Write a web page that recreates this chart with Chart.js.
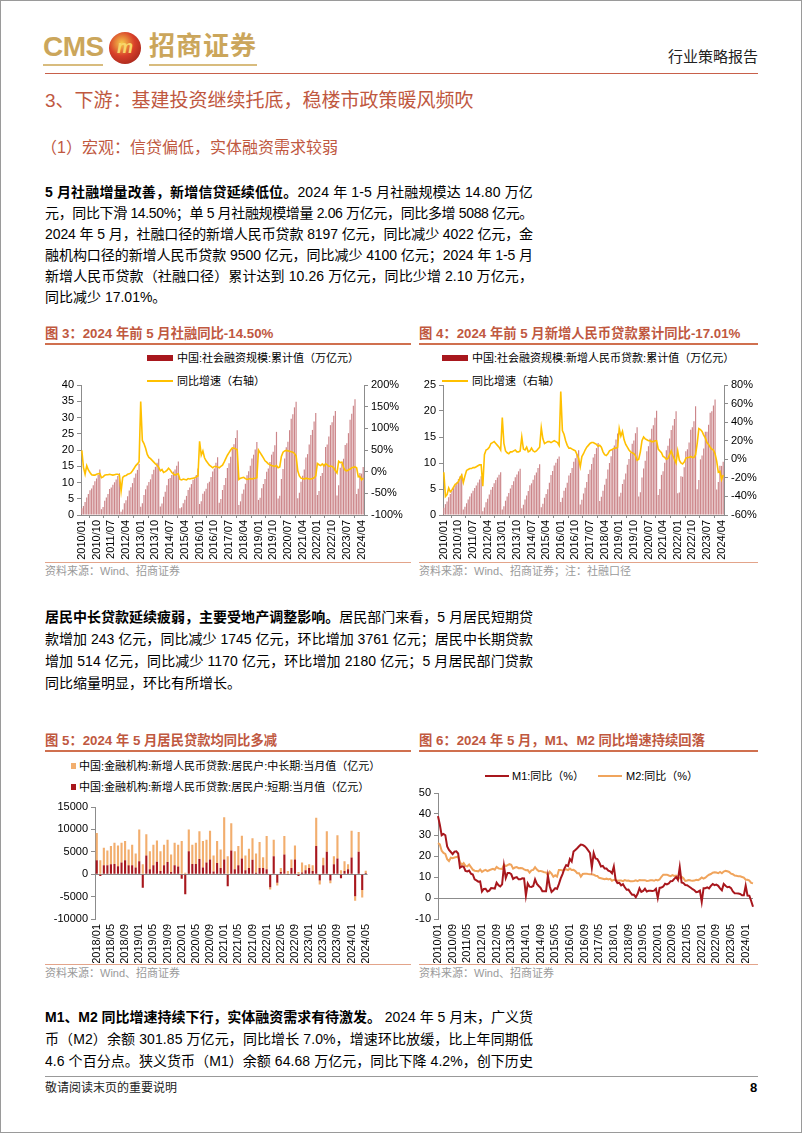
<!DOCTYPE html>
<html><head><meta charset="utf-8">
<script src="https://cdn.jsdelivr.net/npm/chart.js@4.4.1/dist/chart.umd.min.js"></script>
<style>
body{margin:0;background:#fff;}
#page{position:relative;width:802px;height:1133px;overflow:hidden;font-family:"Liberation Sans","Noto Sans CJK SC",sans-serif;color:#000;box-sizing:border-box;border:1px solid #9a9a9a;}
.abs{position:absolute;white-space:nowrap;}
.ln{position:absolute;left:44px;width:488px;height:22px;line-height:22px;font-size:14px;white-space:nowrap;}
.ln span{display:inline-block;white-space:nowrap;}
.hd{color:#C0583F;}
.ft{position:absolute;font-size:13.3px;font-weight:bold;color:#C0583F;white-space:nowrap;line-height:16px;}
.tl{position:absolute;height:2px;background:#D0704F;}
.bl{position:absolute;height:1px;background:#E3A48A;}
.src{position:absolute;font-size:11px;color:#9a9a9a;white-space:nowrap;line-height:14px;}
.lg{position:absolute;font-size:11px;white-space:nowrap;line-height:14px;color:#000;}
canvas{position:absolute;}
</style></head>
<body><div id="page">
<!-- header -->
<div class="abs" style="left:42px;top:29px;font-size:28px;font-weight:bold;color:#CBA65B;line-height:34px;letter-spacing:-0.5px;">CMS</div>
<div class="abs" style="left:108px;top:31px;width:32px;height:32px;border-radius:50%;background:radial-gradient(circle at 40% 35%,#F6CB4A 0%,#D8402A 45%,#8E1B16 100%);color:#F8D66A;font-weight:bold;font-style:italic;font-size:18px;line-height:30px;text-align:center;">m</div>
<div class="abs" style="left:148px;top:28px;font-size:26px;font-weight:bold;color:#CBA65B;line-height:34px;letter-spacing:1px;">招商证券</div>
<div class="abs" style="left:42px;top:63px;width:60px;height:2px;background:#D8BC7E;"></div>
<div class="abs" style="left:148px;top:63px;width:108px;height:2px;background:#D8BC7E;"></div>
<div class="abs" style="left:667px;top:47px;font-size:15px;color:#222;line-height:18px;">行业策略报告</div>
<div class="abs" style="left:44px;top:72px;width:713px;height:1px;background:#C8604A;"></div>

<div class="abs hd" style="left:44px;top:88px;font-size:19px;line-height:24px;">3、下游：基建投资继续托底，稳楼市政策暖风频吹</div>
<div class="abs hd" style="left:40px;top:137px;font-size:16px;line-height:20px;">（1）宏观：信贷偏低，实体融资需求较弱</div>

<div class="ln" style="top:180px;"><span><b>5 月社融增量改善，新增信贷延续低位。</b>2024 年 1-5 月社融规模达 14.80 万亿</span></div>
<div class="ln" style="top:201px;"><span>元，同比下滑 14.50%；单 5 月社融规模增量 2.06 万亿元，同比多增 5088 亿元。</span></div>
<div class="ln" style="top:222px;"><span>2024 年 5 月，社融口径的新增人民币贷款 8197 亿元，同比减少 4022 亿元，金</span></div>
<div class="ln" style="top:243px;"><span>融机构口径的新增人民币贷款 9500 亿元，同比减少 4100 亿元；2024 年 1-5 月</span></div>
<div class="ln" style="top:264px;"><span>新增人民币贷款（社融口径）累计达到 10.26 万亿元，同比少增 2.10 万亿元，</span></div>
<div class="ln last" style="top:285px;"><span>同比减少 17.01%。</span></div>

<!-- fig 3 / 4 titles -->
<div class="ft" style="left:44px;top:325px;">图 3：2024 年前 5 月社融同比-14.50%</div>
<div class="tl" style="left:44px;top:342px;width:366px;"></div>
<div class="ft" style="left:418px;top:325px;">图 4：2024 年前 5 月新增人民币贷款累计同比-17.01%</div>
<div class="tl" style="left:418px;top:342px;width:339px;"></div>

<div class="abs" style="left:146px;top:354px;width:26px;height:6px;background:#A8171D;"></div>
<div class="lg" style="left:176px;top:350px;">中国:社会融资规模:累计值（万亿元）</div>
<div class="abs" style="left:146px;top:379px;width:26px;height:2px;background:#FFC000;"></div>
<div class="lg" style="left:176px;top:373px;">同比增速（右轴）</div>

<div class="abs" style="left:441px;top:354px;width:26px;height:6px;background:#A8171D;"></div>
<div class="lg" style="left:471px;top:350px;">中国:社会融资规模:新增人民币贷款:累计值（万亿元）</div>
<div class="abs" style="left:441px;top:379px;width:26px;height:2px;background:#FFC000;"></div>
<div class="lg" style="left:471px;top:373px;">同比增速（右轴）</div>

<canvas id="c3" width="370" height="186" style="left:40px;top:374px;"></canvas>
<canvas id="c4" width="347" height="186" style="left:410px;top:374px;"></canvas>

<div class="bl" style="left:44px;top:561px;width:366px;"></div>
<div class="src" style="left:44px;top:563px;">资料来源：Wind、招商证券</div>
<div class="bl" style="left:418px;top:561px;width:339px;"></div>
<div class="src" style="left:418px;top:563px;">资料来源：Wind、招商证券；注：社融口径</div>

<div class="ln" style="top:605px;"><span><b>居民中长贷款延续疲弱，主要受地产调整影响。</b>居民部门来看，5 月居民短期贷</span></div>
<div class="ln" style="top:627px;"><span>款增加 243 亿元，同比减少 1745 亿元，环比增加 3761 亿元；居民中长期贷款</span></div>
<div class="ln" style="top:649px;"><span>增加 514 亿元，同比减少 1170 亿元，环比增加 2180 亿元；5 月居民部门贷款</span></div>
<div class="ln last" style="top:671px;"><span>同比缩量明显，环比有所增长。</span></div>

<!-- fig 5 / 6 titles -->
<div class="ft" style="left:44px;top:732px;">图 5：2024 年 5 月居民贷款均同比多减</div>
<div class="tl" style="left:44px;top:749px;width:366px;"></div>
<div class="ft" style="left:418px;top:732px;">图 6：2024 年 5 月，M1、M2 同比增速持续回落</div>
<div class="tl" style="left:418px;top:749px;width:339px;"></div>

<div class="abs" style="left:70px;top:762px;width:5px;height:6px;background:#F2AE6E;"></div>
<div class="lg" style="left:78px;top:758px;">中国:金融机构:新增人民币贷款:居民户:中长期:当月值（亿元）</div>
<div class="abs" style="left:70px;top:783px;width:5px;height:6px;background:#A8171D;"></div>
<div class="lg" style="left:78px;top:779px;">中国:金融机构:新增人民币贷款:居民户:短期:当月值（亿元）</div>

<div class="abs" style="left:484px;top:774px;width:24px;height:2px;background:#A8171D;"></div>
<div class="lg" style="left:511px;top:768px;">M1:同比（%）</div>
<div class="abs" style="left:597px;top:774px;width:24px;height:2px;background:#F0A45C;"></div>
<div class="lg" style="left:625px;top:768px;">M2:同比（%）</div>

<canvas id="c5" width="340" height="166" style="left:40px;top:796px;"></canvas>
<canvas id="c6" width="360" height="180" style="left:400px;top:782px;"></canvas>

<div class="bl" style="left:44px;top:963px;width:366px;"></div>
<div class="src" style="left:44px;top:965px;">资料来源：Wind、招商证券</div>
<div class="bl" style="left:418px;top:963px;width:339px;"></div>
<div class="src" style="left:418px;top:965px;">资料来源：Wind、招商证券</div>

<div class="ln" style="top:1005px;"><span><b>M1、M2 同比增速持续下行，实体融资需求有待激发。</b> 2024 年 5 月末，广义货</span></div>
<div class="ln" style="top:1027px;"><span>币（M2）余额 301.85 万亿元，同比增长 7.0%，增速环比放缓，比上年同期低</span></div>
<div class="ln" style="top:1049px;"><span>4.6 个百分点。狭义货币（M1）余额 64.68 万亿元，同比下降 4.2%，创下历史</span></div>

<div class="abs" style="left:44px;top:1075px;width:713px;height:1px;background:#999;"></div>
<div class="abs" style="left:44px;top:1080px;font-size:12px;line-height:14px;color:#222;">敬请阅读末页的重要说明</div>
<div class="abs" style="left:749px;top:1079px;font-size:13px;font-weight:bold;line-height:16px;">8</div>
</div>

<script>
// ---------- data ----------
// monthly categories 2010/01 - 2024/05
const months2010 = [];
for (let y = 2010; y <= 2024; y++) for (let m = 1; m <= 12; m++) { if (y === 2024 && m > 5) break; months2010.push(y + '/' + String(m).padStart(2, '0')); }
const months2018 = months2010.slice(96);

const ticks34 = ['2010/01','2010/10','2011/07','2012/04','2013/01','2013/10','2014/07','2015/04','2016/01','2016/10','2017/07','2018/04','2019/01','2019/10','2020/07','2021/04','2022/01','2022/10','2023/07','2024/04'];
const ticks5 = ['2018/01','2018/05','2018/09','2019/01','2019/05','2019/09','2020/01','2020/05','2020/09','2021/01','2021/05','2021/09','2022/01','2022/05','2022/09','2023/01','2023/05','2023/09','2024/01','2024/05'];
const ticks6 = ['2010/01','2010/09','2011/05','2012/01','2012/09','2013/05','2014/01','2014/09','2015/05','2016/01','2016/09','2017/05','2018/01','2018/09','2019/05','2020/01','2020/09','2021/05','2022/01','2022/09','2023/05','2024/01'];

// Fig 3: TSF cumulative (万亿元) and YoY (%)
const tsfCum = [
2.07,2.78,4.00,5.39,6.46,7.63,8.16,9.19,10.41,11.24,12.36,14.02,
1.78,2.44,4.35,5.37,6.43,7.98,8.44,9.27,10.07,10.95,11.97,12.83,
0.97,1.73,3.60,4.56,5.74,7.52,8.57,9.81,11.45,12.74,13.88,15.76,
2.54,3.61,6.16,7.91,9.10,10.16,10.97,12.54,13.95,14.81,16.04,17.32,
2.58,3.52,5.60,7.15,9.12,11.10,11.38,12.32,13.37,14.03,15.18,16.46,
2.05,2.41,3.61,4.66,5.88,7.71,8.43,9.51,10.82,11.30,12.32,14.30,
3.42,4.20,6.54,7.29,8.11,9.74,10.23,11.70,13.42,14.31,16.05,17.80,
3.74,4.95,7.70,9.20,11.40,14.50,15.90,17.90,20.40,21.80,23.70,26.10,
3.08,4.20,6.55,7.85,9.60,12.20,13.45,15.15,17.35,18.55,20.15,22.49,
4.64,5.34,8.20,9.56,11.05,13.31,14.32,16.30,18.57,19.45,21.45,25.58,
5.07,5.94,11.08,14.17,17.36,20.83,22.52,26.10,29.58,30.99,33.12,34.86,
5.17,6.88,10.22,12.07,13.99,17.66,18.73,21.69,24.59,26.18,28.78,31.35,
6.17,7.36,12.01,12.92,15.76,20.93,21.69,24.12,27.65,28.56,30.55,32.01,
5.98,9.14,14.53,15.75,17.31,21.53,22.06,25.18,29.30,31.15,33.60,35.59,
6.50,8.06,12.93,12.73,14.80];
const tsfYoy = [
49,10,-6,14,4,-2,-7,-8,-8,-6,-5,-4,
-14,-12,-8,-7,-7,-6,-7,-8,-7,-6,-6,-8,
-45,-13,-10,-9,-6,-5,-3,2,8,14,18,23,
162,72,65,54,40,33,30,26,22,18,15,10,
2,5,-2,0,3,8,4,-2,-5,-8,-6,-5,
-18,-19,-17,-18,-19,-16,-17,-16,-15,-14,-12,-10,
70,38,48,32,25,20,15,12,9,12,12,11,
9,12,15,22,30,38,44,50,55,54,53,50,
-18,-15,-14,-13,-16,-18,-17,-16,-17,-16,-15,-14,
50,44,38,32,25,22,18,16,14,13,12,14,
9,11,35,45,48,49,48,47,46,45,42,36,
2,-10,-15,-16,-17,-15,-16,-17,-17,-16,-14,-10,
19,16,14,18,13,18,16,12,13,12,9,2,
-3,24,21,22,10,3,2,4,6,9,10,11,
9,-12,-11,-19,-14.5];

// Fig 4: new RMB loans cumulative (万亿元) and YoY (%)
const loanCum = [
1.39,2.09,2.61,3.39,4.03,4.63,5.16,5.70,6.30,6.89,7.45,7.95,
1.04,1.58,2.26,3.00,3.55,4.17,4.66,5.21,5.68,6.27,6.83,7.47,
0.74,1.45,2.46,3.14,3.93,4.85,5.39,6.09,6.71,7.22,7.74,8.20,
1.07,1.69,2.75,3.54,4.22,5.08,5.78,6.49,7.28,7.78,8.40,8.89,
1.32,1.96,2.98,3.76,4.63,5.71,6.09,6.79,7.65,8.19,9.04,9.78,
1.47,2.14,3.32,4.03,4.93,6.21,7.69,8.48,9.53,10.03,10.80,11.27,
2.51,3.31,4.68,5.24,6.22,7.60,8.07,9.02,10.24,10.89,11.68,12.44,
2.03,2.94,4.14,5.24,6.35,7.89,8.71,9.80,11.07,11.74,12.86,13.84,
2.69,3.53,4.65,5.80,6.95,8.73,10.00,11.28,12.66,13.36,14.54,15.67,
3.57,4.27,5.96,6.81,7.99,9.67,10.75,11.99,13.68,14.34,15.73,16.88,
3.58,4.37,7.22,8.92,10.41,12.24,13.23,14.65,16.59,17.25,18.69,20.03,
3.84,4.98,7.72,8.39,10.05,12.43,13.31,14.69,16.36,17.19,18.46,19.95,
4.20,4.33,7.43,7.35,9.18,12.24,12.64,13.94,16.41,16.87,18.02,20.91,
4.93,6.75,10.70,11.42,12.78,16.00,15.99,17.35,19.66,19.95,21.05,22.22,
4.92,6.37,9.46,9.44,10.26];
const loanYoy = [
-14,-40,-38,-31,-35,-33,-30,-27,-26,-24,-20,-17,
-25,-18,-12,-11,-10,-10,-9,-9,-8,-7,-6,-6,
-29,5,10,11,13,17,18,19,17,15,13,10,
45,17,9,7,6,8,8,9,10,8,8,9,
24,11,10,13,8,9,12,9,8,9,11,13,
34,22,17,18,19,19,18,19,20,19,18,15,
73,31,27,20,15,12,12,11,10,9,5,1,
-8,3,6,10,13,15,17,18,18,17,16,14,
15,13,8,5,4,6,9,10,11,12,12,13,
33,25,30,21,16,13,10,8,7,6,4,-1,
0,8,20,24,22,21,20,20,19,19,20,20,
11,9,7,3,2,0,1,5,9,4,0,-4,
9,-1,-4,-5,-3,1,2,2,3,2,2,5,
17,33,32,30,26,23,18,16,13,11,10,6,
-2,-14,-13,-22,-17];

// Fig 5: household new loans, monthly (亿元), 2018/01 - 2024/05
const hhShort = [
3100,-400,2000,2000,2200,2300,1800,2600,3100,2000,2000,1500,
2900,-3000,4200,1100,2000,2800,700,2000,2700,500,2000,1700,
-1000,-4500,5100,2300,2300,3400,1500,2600,3300,600,2500,1400,
3300,-2700,5300,1100,2000,3500,900,1400,3200,300,1400,1400,
1100,-2900,4000,-1900,500,4400,-200,1400,3300,-400,400,900,
1400,700,6300,-1400,1988,5000,-1400,2200,3500,-900,700,1100,
3700,-4900,5000,-3518,243];
const hhLong = [
6100,3100,3900,3300,4100,4700,4600,4400,4300,3500,4600,3100,
7100,2200,4700,4000,4600,4700,4400,4600,5000,3900,5000,4900,
7400,300,4900,4300,4700,6200,5900,5100,6400,3600,4900,4100,
9400,4000,6100,4000,4300,5100,3300,4300,4800,4300,5800,2400,
7400,-500,3700,-600,900,4100,700,1900,3100,500,2200,1100,
800,1300,6300,-900,1684,4600,-600,1800,5200,900,2200,1100,
6000,-1000,4400,-1666,514];

// Fig 6: M1 / M2 YoY (%)
const m1Yoy = [
39.0,34.9,29.9,30.5,29.9,24.6,22.9,21.9,20.9,22.1,22.2,21.2,
14.4,15.0,15.0,12.9,12.7,13.1,11.6,11.2,8.9,8.4,7.8,7.9,
3.1,4.3,4.4,3.1,3.5,4.7,4.6,4.5,7.3,6.1,5.5,6.5,
15.3,9.5,11.9,11.9,11.3,9.1,9.7,9.9,8.9,8.9,9.4,9.3,
1.2,6.9,5.4,5.3,5.7,8.9,6.7,5.7,4.8,3.2,3.2,3.2,
10.6,5.6,2.9,3.7,4.7,4.3,6.6,9.3,11.4,14.0,15.7,15.2,
18.6,17.4,22.1,22.9,23.7,24.6,25.4,25.3,24.7,23.9,22.7,21.4,
14.5,21.4,18.8,18.5,17.0,15.0,15.3,14.0,14.0,13.0,12.7,11.8,
15.0,8.5,7.1,7.2,6.0,6.6,5.1,3.9,4.0,2.7,1.5,1.5,
0.4,2.0,4.6,2.9,3.4,4.4,3.1,3.4,3.4,3.3,3.5,4.4,
0.0,4.8,5.0,5.5,6.8,6.5,6.9,8.0,8.1,9.1,10.0,8.6,
14.7,7.4,7.1,6.2,6.1,5.5,4.9,4.2,3.7,2.8,3.0,3.5,
-1.9,4.7,4.7,5.1,4.6,5.8,6.7,6.1,6.4,5.8,4.6,3.7,
6.7,5.8,5.1,5.3,4.7,3.1,2.3,2.2,2.1,1.9,1.3,1.3,
5.9,1.2,1.1,-1.4,-4.2];
const m2Yoy = [
26.1,25.5,22.5,21.5,21.0,18.5,17.6,19.2,19.0,19.3,19.5,19.7,
17.2,15.7,16.6,15.3,15.1,15.9,14.7,13.5,13.0,12.9,12.7,13.6,
12.4,13.0,13.4,12.8,13.2,13.6,13.9,13.5,14.8,14.1,13.9,13.8,
15.9,15.2,15.7,16.1,15.8,14.0,14.5,14.7,14.2,14.3,14.2,13.6,
13.2,13.3,12.1,13.2,13.4,14.7,13.5,12.8,12.9,12.6,12.3,12.2,
10.8,12.5,11.6,10.1,10.8,10.2,13.3,13.3,13.1,13.5,13.7,13.3,
14.0,13.3,13.4,12.8,11.8,11.8,10.2,11.4,11.5,11.6,11.4,11.3,
11.3,11.1,10.6,10.5,9.6,9.4,9.2,8.9,9.2,8.8,9.1,8.2,
8.6,8.8,8.2,8.3,8.3,8.0,8.5,8.2,8.3,8.0,8.0,8.1,
8.4,8.0,8.6,8.5,8.5,8.5,8.1,8.2,8.4,8.4,8.2,8.7,
8.4,8.8,10.1,11.1,11.1,11.1,10.7,10.4,10.9,10.5,10.7,10.1,
9.4,10.1,9.4,8.1,8.3,8.6,8.3,8.2,8.3,8.7,8.5,9.0,
9.8,9.2,9.7,10.5,11.1,11.4,12.0,12.2,12.1,11.8,12.4,11.8,
12.6,12.9,12.7,12.4,11.6,11.3,10.7,10.6,10.3,10.3,10.0,9.7,
8.7,8.7,8.3,7.2,7.0];

// ---------- justify text lines ----------
document.querySelectorAll('.ln').forEach(el => {
  if (el.classList.contains('last')) return;
  const sp = el.firstElementChild;
  const W = el.clientWidth;
  const w = sp.getBoundingClientRect().width;
  const n = sp.textContent.length;
  sp.style.letterSpacing = ((W - w) / n) + 'px';
});

// ---------- charts ----------
const FONT = { family: '"Liberation Sans","Noto Sans CJK SC",sans-serif', size: 11 };
const AX = '#8c8c8c';
Chart.defaults.font.family = FONT.family;
Chart.defaults.color = '#000';

function xCat(labels, tickList, height, showTicks) {
  const set = new Set(tickList);
  return {
    type: 'category', offset: true,
    ticks: { autoSkip: false, minRotation: 90, maxRotation: 90, font: FONT, color: '#000', padding: 2,
      callback: (v, i) => set.has(labels[i]) ? labels[i] : null },
    grid: { display: showTicks, drawOnChartArea: false, drawTicks: true, tickLength: 3, color: AX },
    border: { display: showTicks, color: AX },
    afterFit: s => { s.height = height; }
  };
}
function yLin(pos, min, max, step, width, fmt, zeroLine) {
  return {
    type: 'linear', position: pos, min, max,
    ticks: { stepSize: step, font: FONT, color: '#000', padding: 3, callback: fmt },
    grid: zeroLine ? { drawOnChartArea: true, drawTicks: true, tickLength: 4, tickColor: AX,
                       color: c => (c.tick && c.tick.value === 0) ? AX : 'rgba(0,0,0,0)' }
                   : { drawOnChartArea: false, drawTicks: true, tickLength: 4, color: AX },
    border: { display: true, color: AX },
    afterFit: s => { s.width = width; }
  };
}
const base = (pad) => ({
  responsive: false, animation: false, devicePixelRatio: 1,
  layout: { padding: pad },
  plugins: { legend: { display: false }, tooltip: { enabled: false } }
});
const num = v => String(v);
const pct = v => v + '%';

// Fig 3
new Chart(document.getElementById('c3'), {
  type: 'bar',
  data: { labels: months2010, datasets: [
    { type: 'line', data: tsfYoy, yAxisID: 'y1', borderColor: '#FFC000', borderWidth: 1.6, pointRadius: 0, order: 0 },
    { type: 'bar', data: tsfCum, yAxisID: 'y', backgroundColor: '#CC868A', barPercentage: 0.72, categoryPercentage: 1, order: 1 }
  ]},
  options: Object.assign(base({ top: 10, left: 0, right: 0, bottom: 0 }), {
    scales: {
      x: xCat(months2010, ticks34, 46, true),
      y: yLin('left', 0, 40, 5, 40, num, false),
      y1: yLin('right', -100, 200, 50, 47, pct, false)
    }
  })
});

// Fig 4
new Chart(document.getElementById('c4'), {
  type: 'bar',
  data: { labels: months2010, datasets: [
    { type: 'line', data: loanYoy, yAxisID: 'y1', borderColor: '#FFC000', borderWidth: 1.6, pointRadius: 0, order: 0 },
    { type: 'bar', data: loanCum, yAxisID: 'y', backgroundColor: '#CC868A', barPercentage: 0.72, categoryPercentage: 1, order: 1 }
  ]},
  options: Object.assign(base({ top: 10, left: 0, right: 0, bottom: 0 }), {
    scales: {
      x: xCat(months2010, ticks34, 46, true),
      y: yLin('left', 0, 25, 5, 32, num, false),
      y1: yLin('right', -60, 80, 20, 34, pct, false)
    }
  })
});

// Fig 5
new Chart(document.getElementById('c5'), {
  type: 'bar',
  data: { labels: months2018, datasets: [
    { label: '中国:金融机构:新增人民币贷款:居民户:短期:当月值（亿元）', data: hhShort, backgroundColor: '#A8171D', barPercentage: 0.6, categoryPercentage: 1 },
    { label: '中国:金融机构:新增人民币贷款:居民户:中长期:当月值（亿元）', data: hhLong, backgroundColor: '#F2AE6E', barPercentage: 0.6, categoryPercentage: 1 }
  ]},
  options: Object.assign(base({ top: 10, left: 0, right: 7, bottom: 0 }), {
    scales: {
      x: Object.assign(xCat(months2018, ticks5, 44, false), { stacked: true }),
      y: Object.assign(yLin('left', -10000, 15000, 5000, 54, num, true), { stacked: true })
    }
  })
});

// Fig 6
new Chart(document.getElementById('c6'), {
  type: 'line',
  data: { labels: months2010, datasets: [
    { label: 'M1:同比（%）', data: m1Yoy, borderColor: '#A8171D', borderWidth: 2, pointRadius: 0, order: 0 },
    { label: 'M2:同比（%）', data: m2Yoy, borderColor: '#F0A45C', borderWidth: 2, pointRadius: 0, order: 1 }
  ]},
  options: Object.assign(base({ top: 10, left: 0, right: 5, bottom: 0 }), {
    scales: {
      x: Object.assign(xCat(months2010, ticks6, 44, false), { offset: false }),
      y: yLin('left', -10, 50, 10, 37, num, true)
    }
  })
});
</script>
</body></html>
